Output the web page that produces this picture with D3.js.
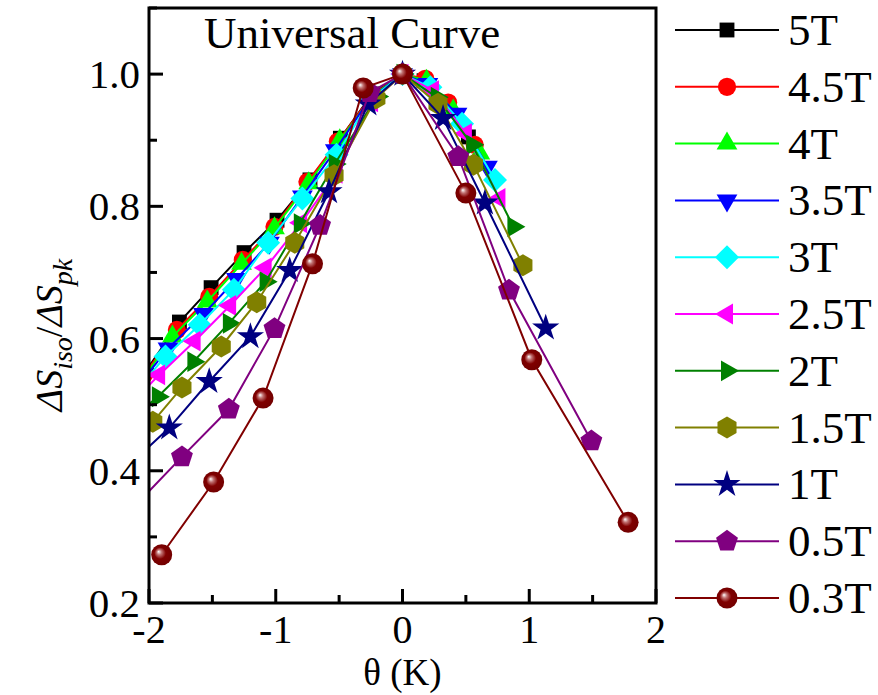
<!DOCTYPE html>
<html><head><meta charset="utf-8">
<script src="https://cdn.jsdelivr.net/npm/d3@7"></script>
<style>
body{margin:0;background:#fff;}
text{font-family:"Liberation Serif","Times New Roman",serif;fill:#000;}
</style></head>
<body><svg id="c" width="878" height="695"></svg>
<script>
const seriesNames = ["5T","4.5T","4T","3.5T","3T","2.5T","2T","1.5T","1T","0.5T","0.3T"];
const seriesColors = ["#000000","#ff0000","#00ff00","#0000ff","#00ffff","#ff00ff","#008000","#808000","#000080","#800080","#800000"];
const seriesShapes = ["square","circle","triUp","triDown","diamond","triLeft","triRight","hexagon","star","pentagon","sphere"];

const x5T   = [-2.02,-1.76,-1.51,-1.25,-0.99,-0.73,-0.49,-0.24,0,0.17,0.35,0.52];
const y5T   = [0.552,0.625,0.677,0.730,0.779,0.840,0.903,0.970,1.0,0.990,0.955,0.905];
const x4_5T = [-2.04,-1.78,-1.525,-1.26,-1.01,-0.75,-0.51,-0.24,0,0.18,0.36,0.57];
const y4_5T = [0.545,0.613,0.663,0.719,0.769,0.837,0.898,0.968,1.0,0.993,0.957,0.893];
const x4T   = [-2.08,-1.815,-1.54,-1.27,-1.01,-0.74,-0.495,-0.23,0,0.19,0.40,0.61];
const y4T   = [0.530,0.603,0.656,0.713,0.767,0.835,0.900,0.968,1.0,0.990,0.945,0.880];
const x3_5T = [-2.12,-1.85,-1.57,-1.31,-1.05,-0.79,-0.53,-0.26,0,0.20,0.43,0.67];
const y3_5T = [0.520,0.585,0.637,0.690,0.745,0.815,0.885,0.962,1.0,0.985,0.940,0.860];
const x3T   = [-2.15,-1.87,-1.60,-1.33,-1.06,-0.79,-0.52,-0.25,0,0.22,0.47,0.73];
const y3T   = [0.510,0.573,0.621,0.674,0.745,0.812,0.878,0.962,1.0,0.980,0.925,0.840];
const x2_5T = [-2.20,-1.92,-1.64,-1.36,-1.08,-0.80,-0.52,-0.24,0,0.24,0.50,0.765];
const y2_5T = [0.490,0.545,0.596,0.650,0.707,0.775,0.850,0.958,1.0,0.975,0.910,0.812];
const x2T   = [-2.20,-1.93,-1.65,-1.37,-1.08,-0.81,-0.535,-0.20,0,0.27,0.55,0.875];
const y2T   = [0.470,0.512,0.565,0.623,0.686,0.774,0.864,0.966,1.0,0.965,0.893,0.769];
const x1_5T = [-1.97,-1.74,-1.43,-1.15,-0.85,-0.54,-0.21,0,0.28,0.56,0.95];
const y1_5T = [0.474,0.526,0.588,0.655,0.745,0.847,0.963,1.0,0.955,0.863,0.711];
const x1T   = [-2.15,-1.84,-1.525,-1.20,-0.89,-0.58,-0.27,0,0.32,0.65,1.13];
const y1T   = [0.410,0.465,0.535,0.603,0.703,0.822,0.955,1.0,0.933,0.805,0.616];
const x0_5T = [-2.12,-1.74,-1.37,-1.01,-0.65,-0.26,0,0.44,0.84,1.49];
const y0_5T = [0.345,0.421,0.493,0.615,0.771,0.972,1.0,0.875,0.673,0.445];
const x0_3T = [-1.90,-1.49,-1.10,-0.71,-0.31,0,0.50,1.02,1.78];
const y0_3T = [0.273,0.383,0.510,0.713,0.979,1.0,0.820,0.568,0.322];

const xs = [x5T,x4_5T,x4T,x3_5T,x3T,x2_5T,x2T,x1_5T,x1T,x0_5T,x0_3T];
const ys = [y5T,y4_5T,y4T,y3_5T,y3T,y2_5T,y2T,y1_5T,y1T,y0_5T,y0_3T];

const xTicks = [-2,-1,0,1,2];
const yTicks = [0.2,0.4,0.6,0.8,1.0];

const series = seriesNames.map((n,i)=>({name:n,color:seriesColors[i],shape:seriesShapes[i],
  pts: xs[i].map((v,j)=>({x:v,y:ys[i][j]}))}));

const svg = d3.select("#c");
const L=149,R=656,T=8,B=603;
const x = d3.scaleLinear().domain([-2,2]).range([L,R]);
const y = d3.scaleLinear().domain([0.2,1.1]).range([B,T]);

const defs = svg.append("defs");
defs.append("clipPath").attr("id","clip").append("rect").attr("x",L).attr("y",T).attr("width",R-L).attr("height",B-T);
const g = defs.append("radialGradient").attr("id","sph").attr("cx","0.5").attr("cy","0.5").attr("r","0.55").attr("fx","0.35").attr("fy","0.35");
g.append("stop").attr("offset","0").attr("stop-color","#ffffff");
g.append("stop").attr("offset","0.22").attr("stop-color","#c07070");
g.append("stop").attr("offset","0.5").attr("stop-color","#800000");
g.append("stop").attr("offset","1").attr("stop-color","#700000");

function polyPath(n, r, rot){
  const p=[];
  for(let k=0;k<n;k++){const a=rot+k*2*Math.PI/n;p.push([r*Math.cos(a),r*Math.sin(a)]);}
  return "M"+p.map(q=>q.join(",")).join("L")+"Z";
}
function markerPath(shape){
  switch(shape){
    case "square": return polyPath(4,10.5,Math.PI/4);
    case "circle": return d3.symbol(d3.symbolCircle, 260)();
    case "triUp": return polyPath(3,12,-Math.PI/2);
    case "triDown": return polyPath(3,12,Math.PI/2);
    case "triLeft": return polyPath(3,12,Math.PI);
    case "triRight": return polyPath(3,12,0);
    case "diamond": return polyPath(4,12,0);
    case "hexagon": return polyPath(6,11,Math.PI/2);
    case "pentagon": return polyPath(5,11.5,-Math.PI/2);
    case "star": return d3.symbol(d3.symbolStar, 230)();
    default: return null;
  }
}
function drawMarker(sel, s, cx, cy){
  if(s.shape==="sphere"){
    sel.append("circle").attr("cx",cx).attr("cy",cy).attr("r",10.5).attr("fill","url(#sph)");
  } else {
    sel.append("path").attr("d",markerPath(s.shape)).attr("transform",`translate(${cx},${cy})`).attr("fill",s.color);
  }
}

const plot = svg.append("g").attr("clip-path","url(#clip)");
const line = d3.line().x(d=>x(d.x)).y(d=>y(d.y));
series.forEach(s=>{
  const gs = plot.append("g");
  gs.append("path").attr("d",line(s.pts)).attr("fill","none").attr("stroke",s.color).attr("stroke-width",2);
  s.pts.forEach(p=>drawMarker(gs,s,x(p.x),y(p.y)));
});

// frame
svg.append("rect").attr("x",L).attr("y",T).attr("width",R-L).attr("height",B-T).attr("fill","none").attr("stroke","#000").attr("stroke-width",3);

// ticks
const ax = svg.append("g");
d3.range(-2,2.01,0.5).forEach(v=>{
  const major = Math.abs(v-Math.round(v))<1e-6;
  ax.append("line").attr("x1",x(v)).attr("x2",x(v)).attr("y1",B).attr("y2",B-(major?14:8)).attr("stroke","#000").attr("stroke-width",3);
});
d3.range(0.2,1.101,0.1).forEach(v=>{
  const major = Math.abs(v*5-Math.round(v*5))<1e-6;
  ax.append("line").attr("x1",L).attr("x2",L+(major?14:8)).attr("y1",y(v)).attr("y2",y(v)).attr("stroke","#000").attr("stroke-width",3);
});
xTicks.forEach(v=>{
  ax.append("text").attr("x",x(v)).attr("y",B+40).attr("text-anchor","middle").attr("font-size",40).text(String(v));
});
yTicks.forEach(v=>{
  ax.append("text").attr("x",L-9).attr("y",y(v)+14).attr("text-anchor","end").attr("font-size",41).text(v.toFixed(1));
});

// titles
svg.append("text").attr("x",x(0)).attr("y",685).attr("text-anchor","middle").attr("font-size",37).text("θ (K)");
svg.append("text").attr("x",204).attr("y",48).attr("font-size",45).text("Universal Curve");
const yt = svg.append("text").attr("transform","translate(62,335) rotate(-90)").attr("text-anchor","middle").attr("font-size",38);
yt.append("tspan").attr("font-style","italic").text("ΔS");
yt.append("tspan").attr("font-style","italic").attr("font-size",28).attr("dy",10).text("iso");
yt.append("tspan").attr("dy",-10).text("/");
yt.append("tspan").attr("font-style","italic").text("ΔS");
yt.append("tspan").attr("font-style","italic").attr("font-size",28).attr("dy",10).text("pk");

// legend
const lg = svg.append("g");
series.forEach((s,i)=>{
  const cy = 30 + i*56.8;
  lg.append("line").attr("x1",675).attr("x2",779).attr("y1",cy).attr("y2",cy).attr("stroke",s.color).attr("stroke-width",2);
  drawMarker(lg,s,727,cy);
  lg.append("text").attr("x",788).attr("y",cy+15).attr("font-size",45).text(s.name);
});
</script></body></html>
